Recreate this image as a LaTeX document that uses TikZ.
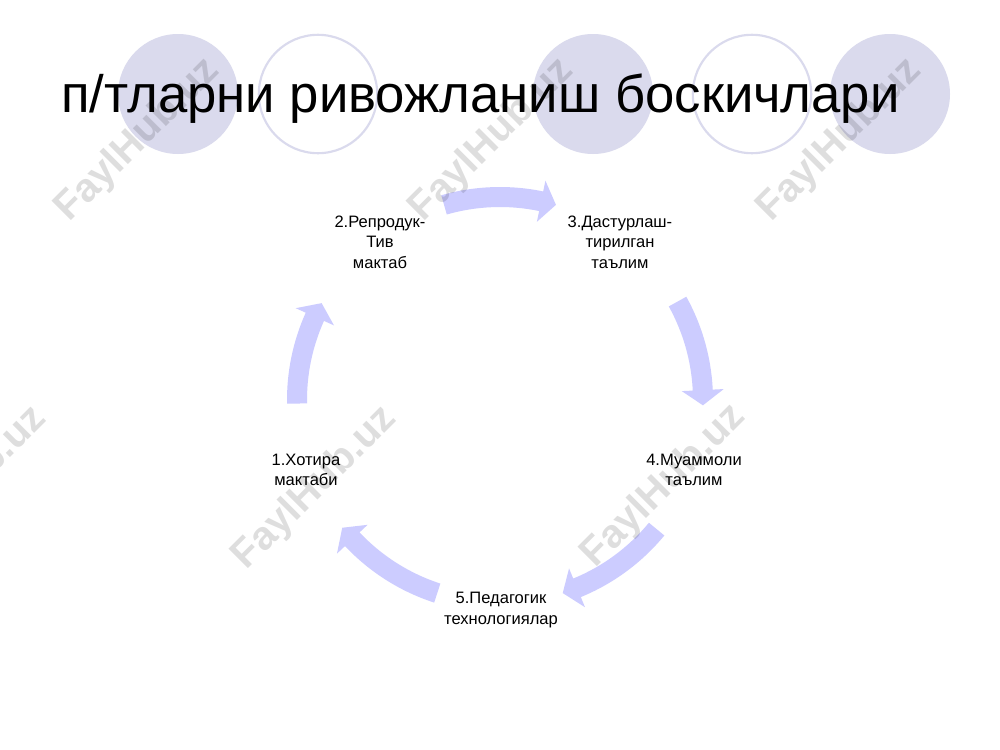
\documentclass[tikz,border=0pt]{standalone}
\usepackage{fontspec}
\setmainfont{Liberation Sans}
\usetikzlibrary{calc}
\definecolor{arrowc}{RGB}{204,204,255}
\definecolor{circc}{RGB}{218,218,237}
\newcommand{\Rc}{203}
\newcommand{\hw}{10}
\newcommand{\hh}{21}
\newcommand{\hd}{4.3}
% #1 start angle, #2 tip angle (clockwise arrow)
\newcommand{\cycarrow}[2]{%
  \fill[arrowc]
    (#1:{\Rc+\hw}) arc[start angle=#1, end angle={#2+\hd}, radius={\Rc+\hw}]
    -- ({#2+\hd}:{\Rc+\hh}) -- (#2:\Rc) -- ({#2+\hd}:{\Rc-\hh})
    -- ({#2+\hd}:{\Rc-\hw}) arc[start angle={#2+\hd}, end angle=#1, radius={\Rc-\hw}]
    -- cycle;}
\tikzset{
  lbl/.style={align=center, inner sep=0pt, font=\fontsize{12.4}{15.4}\selectfont, text=black},
  ttl/.style={anchor=base west, inner sep=0pt, font=\fontsize{39.5}{45}\selectfont, text=black},
  fcirc/.style={fill=circc, draw=none},
  ocirc/.style={draw=circc, line width=1.6pt, fill=none},
  wm/.style={rotate=45, text=black, text opacity=0.13, inner sep=0pt,
             font=\bfseries\fontsize{30}{34}\selectfont}
}
\begin{document}
\begin{tikzpicture}[x=0.75pt, y=-0.75pt]
\useasboundingbox (0,0) rectangle (1000,750);
\clip (0,0) rectangle (1000,750);
\fill[white] (0,0) rectangle (1000,750);
% decorative circles
\node[fcirc, circle, minimum size=90pt, inner sep=0pt] (c1) at (178,94) {};
\node[ocirc, circle, minimum size=88.8pt, inner sep=0pt] (c2) at (318,94) {};
\node[fcirc, circle, minimum size=90pt, inner sep=0pt] (c3) at (593,94) {};
\node[ocirc, circle, minimum size=88.8pt, inner sep=0pt] (c4) at (752,94) {};
\node[fcirc, circle, minimum size=90pt, inner sep=0pt] (c5) at (890,94) {};
% cycle arrows
\coordinate (ctr) at (500,400);
\begin{scope}[shift={(ctr)}, yscale=-1]
  \cycarrow{181}{151.5}
  \cycarrow{106}{74}
  \cycarrow{29}{-1.5}
  \cycarrow{-39.5}{-72}
  \cycarrow{252}{219}
\end{scope}
% watermarks
\node[wm] (w1) at (138,140) {FaylHub.uz};
\node[wm] (w2) at (492,140) {FaylHub.uz};
\node[wm] (w3) at (840,140) {FaylHub.uz};
\node[wm] (w4) at (-35,488) {FaylHub.uz};
\node[wm] (w5) at (315,488) {FaylHub.uz};
\node[wm] (w6) at (664,486) {FaylHub.uz};
% title
\node[ttl] (title) at (61,112) {п/тларни ривожланиш боскичлари};
% stage labels
\node[lbl] (n1) at (306,470) {1.Хотира\\мактаби};
\node[lbl] (n2) at (380,242) {2.Репродук-\\Тив\\мактаб};
\node[lbl] (n3) at (620,242) {3.Дастурлаш-\\тирилган\\таълим};
\node[lbl] (n4) at (694,470) {4.Муаммоли\\таълим};
\node[lbl] (n5) at (501,610) {5.Педагогик\\технологиялар};
\end{tikzpicture}
\end{document}
